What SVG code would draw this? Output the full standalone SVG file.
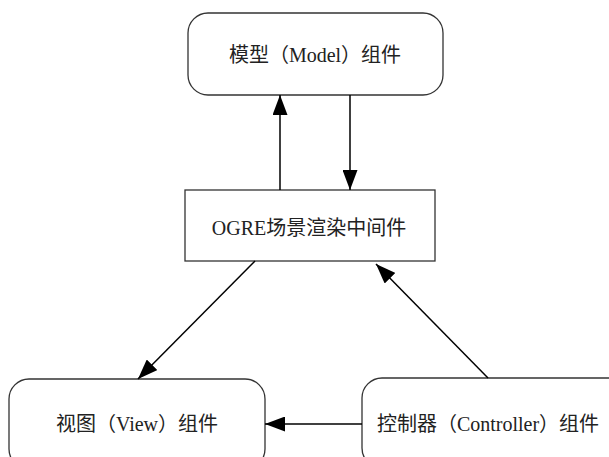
<svg xmlns="http://www.w3.org/2000/svg" width="609" height="457" viewBox="0 0 609 457">
<style>
.box{fill:#fff;stroke:#333;stroke-width:1.3}
.t{font-family:"Liberation Serif","Noto Sans CJK SC",serif;font-size:20px;fill:#222;text-anchor:middle;dominant-baseline:central}
.c{stroke:#000;stroke-width:1.5;fill:none;marker-end:url(#ah)}
</style>
<defs>
<marker id="ah" markerWidth="20" markerHeight="15" viewBox="0 0 20 15" refX="20" refY="7.5" orient="auto" markerUnits="userSpaceOnUse">
<path d="M0,0 L20,7.5 L0,15 z" fill="#000"/>
</marker>
</defs>
<g id="model"><rect class="box" x="188" y="13" width="255" height="82" rx="20"/><text class="t" x="315" y="55">模型（Model）组件</text></g>
<g id="ogre"><rect class="box" x="185" y="190" width="250" height="71"/><text class="t" x="309" y="228">OGRE场景渲染中间件</text></g>
<g id="view"><rect class="box" x="9" y="379" width="256" height="90" rx="20"/><text class="t" x="137" y="424">视图（View）组件</text></g>
<g id="controller"><rect class="box" x="362" y="378" width="270" height="90" rx="20"/><text class="t" x="488" y="424">控制器（Controller）组件</text></g>
<g id="connectors">
<line class="c" x1="280" y1="190" x2="280" y2="95"/>
<line class="c" x1="350" y1="95" x2="350" y2="190"/>
<line class="c" x1="255" y1="261" x2="138" y2="379"/>
<line class="c" x1="488" y1="378" x2="376" y2="264"/>
<line class="c" x1="362" y1="424" x2="265" y2="424"/>
</g>
</svg>
